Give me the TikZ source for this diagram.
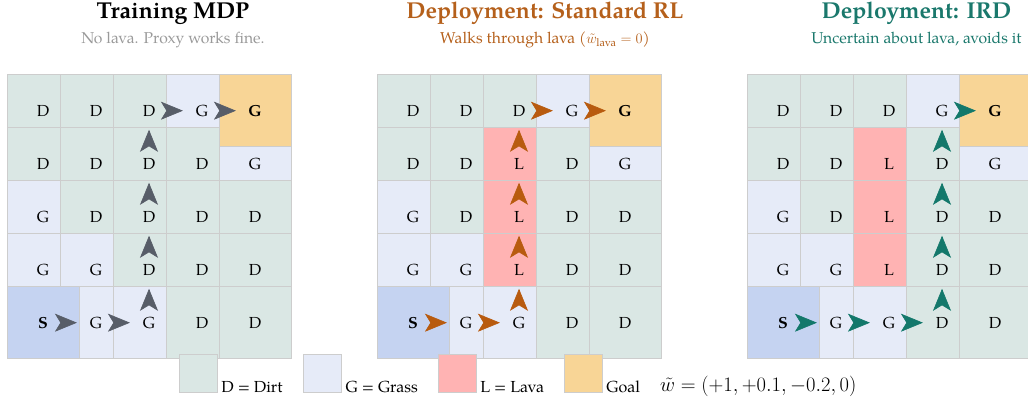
\documentclass[tikz,border=0pt]{standalone}
\usepackage{amsmath}
\usepackage{graphicx}
\usepackage{fontspec}
\setmainfont{texgyrepagella}[Extension=.otf, UprightFont=*-regular, BoldFont=*-bold, ItalicFont=*-italic, BoldItalicFont=*-bolditalic]
\usetikzlibrary{arrows.meta,calc}
\definecolor{cD}{HTML}{DAE7E4}
\definecolor{cG}{HTML}{E6EBF8}
\definecolor{cL}{HTML}{FFB3B3}
\definecolor{goalc}{HTML}{F8D596}
\definecolor{startc}{HTML}{C5D3F1}
\definecolor{cellline}{HTML}{CDCDCD}
\definecolor{arrgray}{HTML}{575D68}
\definecolor{arrorange}{HTML}{B85B0F}
\definecolor{arrteal}{HTML}{13786B}
\definecolor{subgray}{HTML}{9A9A9A}
\definecolor{titleorange}{HTML}{B5601B}
\definecolor{titleteal}{HTML}{1A786C}
\newcommand\cellfont{\fontsize{16}{19}\selectfont}
\newcommand\gridworld[3]{%
  \foreach \rowlist [count=\r] in {#3} {
    \foreach \t [count=\c] in \rowlist {
      \if\t X\relax\else
        \node[cell, fill=c\t] (#1-\r-\c) at ({#2+43+53*(\c-1)},{110.7+53*(\r-1)}) {\t};
      \fi
    }
  }
  \node[cell, fill=goalc, font=\cellfont\bfseries] (#1-1-5) at ({#2+255},110.7) {G};
  \node[cell, fill=startc, font=\cellfont\bfseries] (#1-5-1) at ({#2+43},322.7) {S};
}
\newcommand\mv[3]{\draw[arr, draw=#3, fill=#3] ($(#1)!0.62!(#2)$) -- ($(#1)!0.64!(#2)$);}
\begin{document}
\begin{tikzpicture}[x=1pt,y=-1pt,
  cell/.style={draw=cellline, line width=0.9pt, minimum size=72pt, inner sep=0pt, font=\cellfont},
  arr/.style={line width=0.6pt, -{Stealth[length=22pt, width=18pt, inset=5.5pt]}},
  title/.style={anchor=base, font=\fontsize{23}{28}\selectfont\bfseries},
  subtitle/.style={anchor=base, font=\fontsize{15.7}{19}\selectfont},
  legsq/.style={draw=cellline, line width=0.9pt, minimum size=38pt, inner sep=0pt},
  legtxt/.style={anchor=base west, inner sep=0pt, font=\fontsize{16}{19}\selectfont}]
\useasboundingbox (0,0) rectangle (1028,404);
% titles
\node[title] (t1) at (173,19) {Training MDP};
\node[subtitle, text=subgray] (s1) at (173,43.5) {No lava. Proxy works fine.};
\node[title, text=titleorange] (t2) at (545,19) {Deployment: Standard RL};
\node[subtitle, text=titleorange] (s2) at (545,43.5) {Walks through lava ($\tilde{w}_{\text{lava}} = 0$)};
\node[title, text=titleteal] (t3) at (916.5,19) {Deployment: IRD};
\node[subtitle, text=titleteal] (s3) at (916.5,43.5) {Uncertain about lava, avoids it};
% grids
\gridworld{a}{0}{{D,D,D,G,X},{D,D,D,D,G},{G,D,D,D,D},{G,G,D,D,D},{X,G,G,D,D}}
\gridworld{b}{370}{{D,D,D,G,X},{D,D,L,D,G},{G,D,L,D,D},{G,G,L,D,D},{X,G,G,D,D}}
\gridworld{c}{740}{{D,D,D,G,X},{D,D,L,D,G},{G,D,L,D,D},{G,G,L,D,D},{X,G,G,D,D}}
% paths
\mv{a-5-1}{a-5-2}{arrgray}
\mv{a-5-2}{a-5-3}{arrgray}
\mv{a-5-3}{a-4-3}{arrgray}
\mv{a-4-3}{a-3-3}{arrgray}
\mv{a-3-3}{a-2-3}{arrgray}
\mv{a-2-3}{a-1-3}{arrgray}
\mv{a-1-3}{a-1-4}{arrgray}
\mv{a-1-4}{a-1-5}{arrgray}
\mv{b-5-1}{b-5-2}{arrorange}
\mv{b-5-2}{b-5-3}{arrorange}
\mv{b-5-3}{b-4-3}{arrorange}
\mv{b-4-3}{b-3-3}{arrorange}
\mv{b-3-3}{b-2-3}{arrorange}
\mv{b-2-3}{b-1-3}{arrorange}
\mv{b-1-3}{b-1-4}{arrorange}
\mv{b-1-4}{b-1-5}{arrorange}
\mv{c-5-1}{c-5-2}{arrteal}
\mv{c-5-2}{c-5-3}{arrteal}
\mv{c-5-3}{c-5-4}{arrteal}
\mv{c-5-4}{c-4-4}{arrteal}
\mv{c-4-4}{c-3-4}{arrteal}
\mv{c-3-4}{c-2-4}{arrteal}
\mv{c-2-4}{c-1-4}{arrteal}
\mv{c-1-4}{c-1-5}{arrteal}
% legend
\node[legsq, fill=cD] (ld) at (198.3,373.2) {};
\node[legtxt] (ldt) at ([xshift=3.5pt]ld.south east) {D = Dirt};
\node[legsq, fill=cG] (lg) at (322.5,373.2) {};
\node[legtxt] (lgt) at ([xshift=3.5pt]lg.south east) {G = Grass};
\node[legsq, fill=cL] (ll) at (457.2,373.2) {};
\node[legtxt] (llt) at ([xshift=3.5pt]ll.south east) {L = Lava};
\node[legsq, fill=goalc] (lgo) at (583.3,373.2) {};
\node[legtxt] (lgot) at ([xshift=3.5pt]lgo.south east) {Goal};
\node[legtxt] (lw) at (660,391.7) {\scalebox{1.19}{$\tilde{w} = (+1, +0.1, -0.2, 0)$}};
\end{tikzpicture}
\end{document}
